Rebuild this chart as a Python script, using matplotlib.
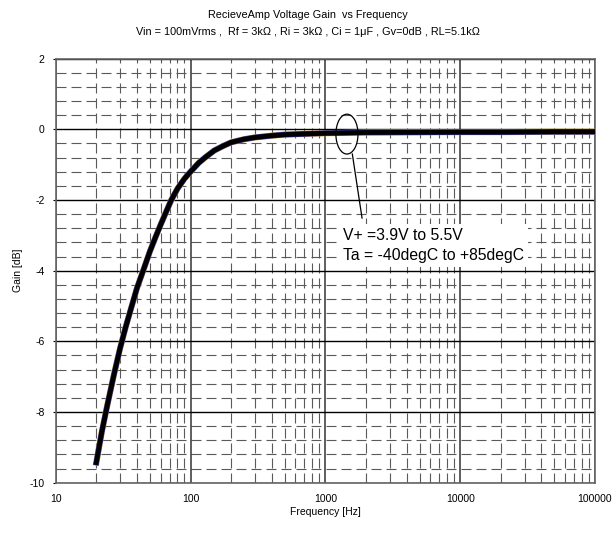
import numpy as np
import matplotlib
matplotlib.use('Agg')
import matplotlib.pyplot as plt
from matplotlib.patches import Ellipse
from matplotlib.ticker import FixedLocator, NullFormatter

plt.rcParams['font.family'] = ['Liberation Sans', 'DejaVu Sans']
plt.rcParams['axes.unicode_minus'] = False

# gain curve
freq = [20, 22, 24, 27, 30, 33, 36, 40, 45, 50, 55, 60, 66, 72, 80, 90, 100,
        115, 130, 150, 175, 200, 250, 300, 400, 500, 700, 1000, 2000, 5000,
        10000, 20000, 50000, 100000]
gain = [-9.43, -8.55, -7.85, -6.95, -6.2, -5.6, -5.1, -4.5, -3.95, -3.45,
        -3.05, -2.70, -2.33, -2.0, -1.68, -1.40, -1.20, -0.95, -0.78, -0.60,
        -0.47, -0.37, -0.28, -0.23, -0.18, -0.15, -0.13, -0.11, -0.09, -0.085,
        -0.08, -0.08, -0.07, -0.07]

x_ticks = [10, 100, 1000, 10000, 100000]
x_labels = ['10', '100', '1000', '10000', '100000']
y_ticks = [2, 0, -2, -4, -6, -8, -10]

fig = plt.figure(figsize=(6.15, 5.33), dpi=100)
ax = fig.add_axes([0.0906, 0.0944, 0.8769, 0.7956])

ax.set_xscale('log')
ax.set_xlim(10, 100000)
ax.set_ylim(-10, 2)

# minor grid (dashed), major grid (solid)
minor_x = [m * d for d in [10, 100, 1000, 10000] for m in range(2, 10)]
minor_y = [v for v in np.arange(-10, 2.01, 0.4) if abs(v / 2 - round(v / 2)) > 0.01]
for v in minor_x:
    ax.axvline(v, color='#5a5a5a', lw=0.8, dashes=(9, 4.5), zorder=1)
for v in minor_y:
    ax.axhline(v, color='#5a5a5a', lw=0.8, dashes=(9, 4.5), zorder=1)
for v in x_ticks:
    ax.axvline(v, color='#333333', lw=1.1, zorder=1.5)
for v in y_ticks:
    ax.axhline(v, color='black', lw=1.0, zorder=1.5)

ax.set_xticks(x_ticks)
ax.set_xticklabels(x_labels)
ax.xaxis.set_minor_locator(FixedLocator(minor_x))
ax.xaxis.set_minor_formatter(NullFormatter())
ax.tick_params(axis='x', which='both', length=0, labelsize=7.5, pad=8)
ax.set_yticks(y_ticks)
ax.tick_params(axis='y', which='major', length=2, labelsize=7.5, direction='out', pad=6)
ax.tick_params(axis='y', which='minor', length=0)
for s in ax.spines.values():
    s.set_color('#666666')
    s.set_linewidth(1.2)

# curves
ax.plot(freq, gain, color='#d4a020', lw=4.4, zorder=3, solid_joinstyle='round')
ax.plot(freq, gain, color='#3030c0', lw=4.0, zorder=3.5, solid_joinstyle='round')
ax.plot(freq, gain, color='black', lw=3.4, zorder=4, solid_joinstyle='round')

ax.set_xlabel('Frequency [Hz]', fontsize=7.5, labelpad=2)
ax.set_ylabel('Gain [dB]', fontsize=7.5, labelpad=5)

fig.text(0.5, 0.966, 'RecieveAmp Voltage Gain  vs Frequency', ha='center', fontsize=7.8)
fig.text(0.5, 0.934, 'Vin = 100mVrms ,  Rf = 3k\u03a9 , Ri = 3k\u03a9 , Ci = 1\u03bcF , Gv=0dB , RL=5.1k\u03a9',
         ha='center', fontsize=7.8)

# annotation: ellipse, leader line, text
ax.add_patch(Ellipse((0.540, 0.822), 0.041, 0.094, transform=ax.transAxes,
                     fill=False, color='black', lw=0.9, zorder=5))
ax.plot([0.550, 0.568], [0.775, 0.624], transform=ax.transAxes, color='black', lw=0.9, zorder=5)
ax.text(0.533, 0.600, 'V+ =3.9V to 5.5V\nTa = -40degC to +85degC', transform=ax.transAxes,
        fontsize=11.3, va='top', ha='left', linespacing=1.4, zorder=6,
        bbox=dict(facecolor='white', edgecolor='none', pad=3))

fig.savefig('out.png', dpi=100)
